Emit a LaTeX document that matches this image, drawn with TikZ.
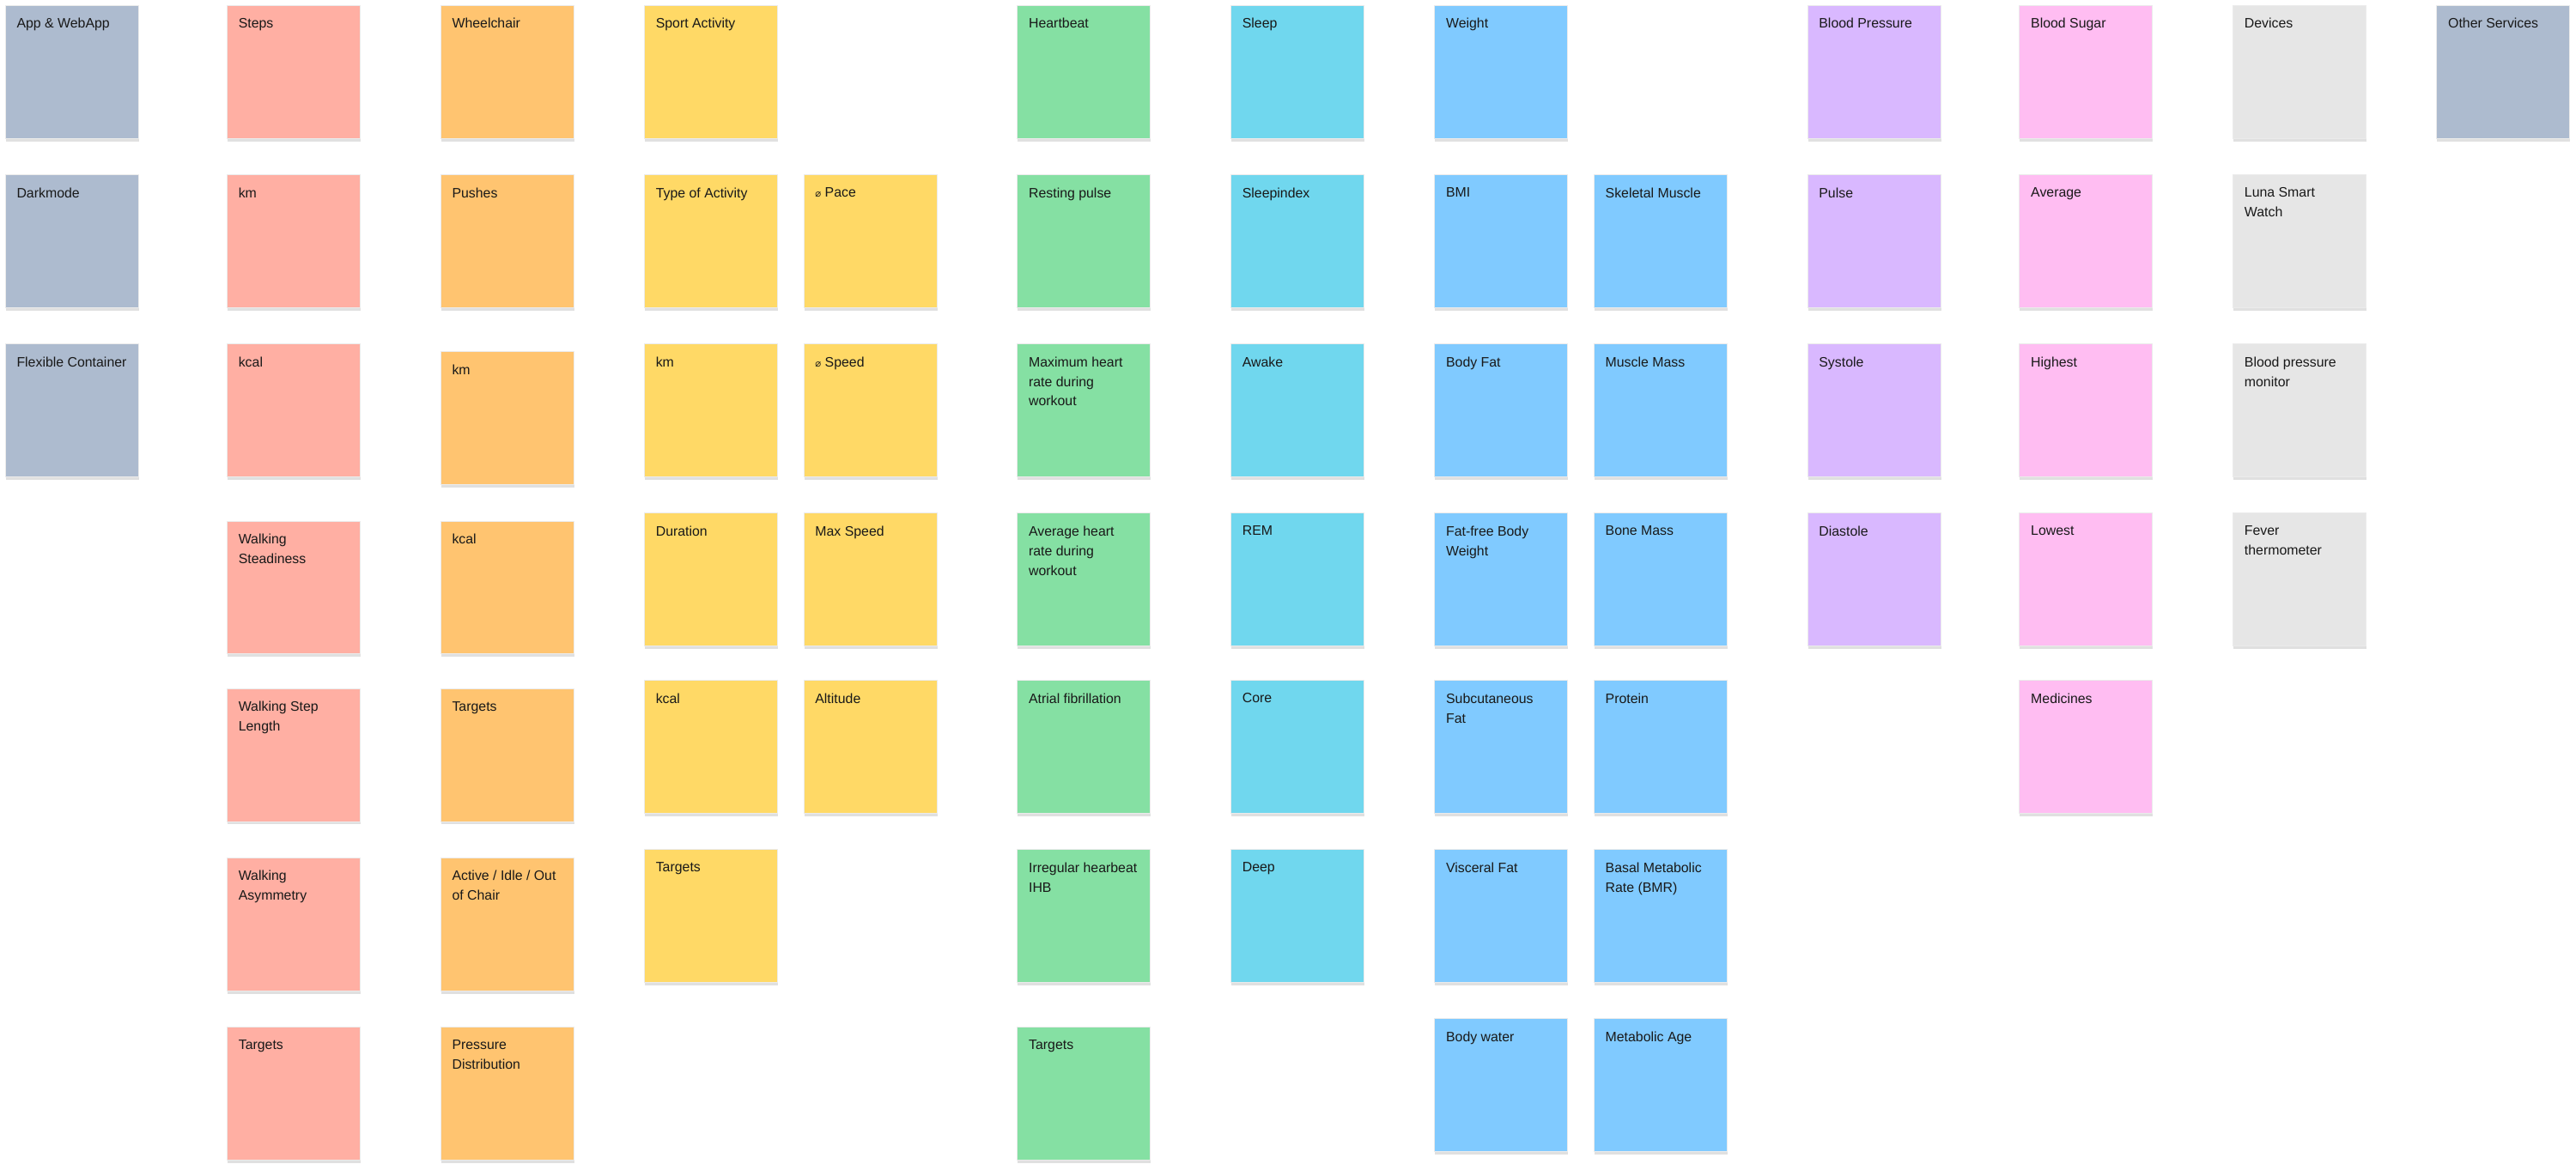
\documentclass[tikz,border=0pt]{standalone}
\usepackage{fontspec}
\setmainfont{Liberation Sans}
\newfontfamily\dvs{DejaVu Sans}
\definecolor{cA}{HTML}{ADBBCF}
\definecolor{cB}{HTML}{FFAFA3}
\definecolor{cC}{HTML}{FFC470}
\definecolor{cD}{HTML}{FFD966}
\definecolor{cF}{HTML}{85E0A3}
\definecolor{cG}{HTML}{70D7EE}
\definecolor{cH}{HTML}{80CAFF}
\definecolor{cJ}{HTML}{D9B8FF}
\definecolor{cK}{HTML}{FFBDF2}
\definecolor{cL}{HTML}{E6E6E6}
\newcommand{\dm}{{\dvs\fontsize{6}{8}\selectfont ⌀}}
\newcommand{\stick}[5]{%
  \fill[black!12] (#2+0.5,-#3-1.8) rectangle (#2+81.5,-#3-83);
  \node[note,fill=#4] (#1) at (#2,-#3) {};
  \node[notetext] (#1t) at (#1.north west) {#5};}
\tikzset{
  note/.style={anchor=north west,minimum width=81pt,minimum height=81pt,inner sep=0pt,draw=black!8,line width=0.3pt},
  notetext/.style={anchor=north west,align=left,inner xsep=7pt,inner ysep=8pt,font=\fontsize{8.3}{12}\selectfont,text=black!90},
}
\begin{document}
\begin{tikzpicture}[x=1pt,y=1pt]
\useasboundingbox[fill=white] (0,0) rectangle (1568,-712);
% col A
\stick{a1}{3}{3}{cA}{App \& WebApp}
\stick{a2}{3}{106}{cA}{Darkmode}
\stick{a3}{3}{209}{cA}{Flexible Container}
% col B
\stick{b1}{138}{3}{cB}{Steps}
\stick{b2}{138}{106}{cB}{km}
\stick{b3}{138}{209}{cB}{kcal}
\stick{b4}{138}{317}{cB}{Walking\\Steadiness}
\stick{b5}{138}{419}{cB}{Walking Step\\Length}
\stick{b6}{138}{522}{cB}{Walking\\Asymmetry}
\stick{b7}{138}{625}{cB}{Targets}
% col C
\stick{c1}{268}{3}{cC}{Wheelchair}
\stick{c2}{268}{106}{cC}{Pushes}
\stick{c3}{268}{214}{cC}{km}
\stick{c4}{268}{317}{cC}{kcal}
\stick{c5}{268}{419}{cC}{Targets}
\stick{c6}{268}{522}{cC}{Active / Idle / Out\\of Chair}
\stick{c7}{268}{625}{cC}{Pressure\\Distribution}
% col D
\stick{d1}{392}{3}{cD}{Sport Activity}
\stick{d2}{392}{106}{cD}{Type of Activity}
\stick{d3}{392}{209}{cD}{km}
\stick{d4}{392}{312}{cD}{Duration}
\stick{d5}{392}{414}{cD}{kcal}
\stick{d6}{392}{517}{cD}{Targets}
% col E
\stick{e2}{489}{106}{cD}{\dm\ Pace}
\stick{e3}{489}{209}{cD}{\dm\ Speed}
\stick{e4}{489}{312}{cD}{Max Speed}
\stick{e5}{489}{414}{cD}{Altitude}
% col F
\stick{f1}{619}{3}{cF}{Heartbeat}
\stick{f2}{619}{106}{cF}{Resting pulse}
\stick{f3}{619}{209}{cF}{Maximum heart\\rate during\\workout}
\stick{f4}{619}{312}{cF}{Average heart\\rate during\\workout}
\stick{f5}{619}{414}{cF}{Atrial fibrillation}
\stick{f6}{619}{517}{cF}{Irregular hearbeat\\IHB}
\stick{f7}{619}{625}{cF}{Targets}
% col G
\stick{g1}{749}{3}{cG}{Sleep}
\stick{g2}{749}{106}{cG}{Sleepindex}
\stick{g3}{749}{209}{cG}{Awake}
\stick{g4}{749}{312}{cG}{REM}
\stick{g5}{749}{414}{cG}{Core}
\stick{g6}{749}{517}{cG}{Deep}
% col H
\stick{h1}{873}{3}{cH}{Weight}
\stick{h2}{873}{106}{cH}{BMI}
\stick{h3}{873}{209}{cH}{Body Fat}
\stick{h4}{873}{312}{cH}{Fat-free Body\\Weight}
\stick{h5}{873}{414}{cH}{Subcutaneous\\Fat}
\stick{h6}{873}{517}{cH}{Visceral Fat}
\stick{h7}{873}{620}{cH}{Body water}
% col I
\stick{i2}{970}{106}{cH}{Skeletal Muscle}
\stick{i3}{970}{209}{cH}{Muscle Mass}
\stick{i4}{970}{312}{cH}{Bone Mass}
\stick{i5}{970}{414}{cH}{Protein}
\stick{i6}{970}{517}{cH}{Basal Metabolic\\Rate (BMR)}
\stick{i7}{970}{620}{cH}{Metabolic Age}
% col J
\stick{j1}{1100}{3}{cJ}{Blood Pressure}
\stick{j2}{1100}{106}{cJ}{Pulse}
\stick{j3}{1100}{209}{cJ}{Systole}
\stick{j4}{1100}{312}{cJ}{Diastole}
% col K
\stick{k1}{1229}{3}{cK}{Blood Sugar}
\stick{k2}{1229}{106}{cK}{Average}
\stick{k3}{1229}{209}{cK}{Highest}
\stick{k4}{1229}{312}{cK}{Lowest}
\stick{k5}{1229}{414}{cK}{Medicines}
% col L
\stick{l1}{1359}{3}{cL}{Devices}
\stick{l2}{1359}{106}{cL}{Luna Smart\\Watch}
\stick{l3}{1359}{209}{cL}{Blood pressure\\monitor}
\stick{l4}{1359}{312}{cL}{Fever\\thermometer}
% col M
\stick{m1}{1483}{3}{cA}{Other Services}
\end{tikzpicture}
\end{document}
